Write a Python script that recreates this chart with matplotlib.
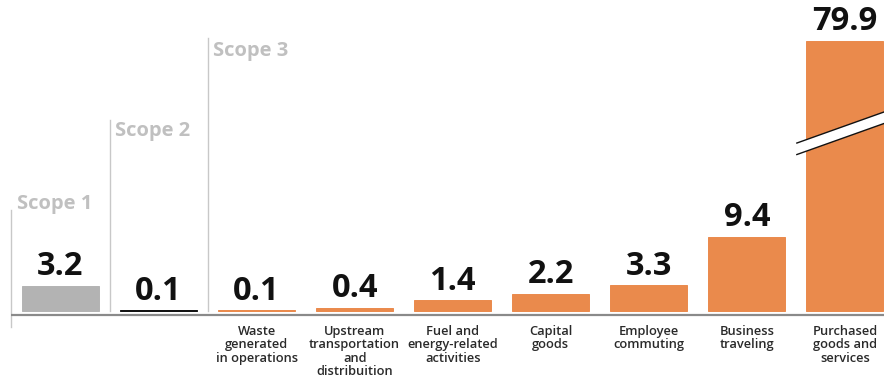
import numpy as np
import matplotlib.pyplot as plt

# --- data ---
categories = ['', '', 'Waste\ngenerated\nin operations',
              'Upstream\ntransportation\nand\ndistribuition',
              'Fuel and\nenergy-related\nactivities', 'Capital\ngoods',
              'Employee\ncommuting', 'Business\ntraveling',
              'Purchased\ngoods and\nservices']
values = [3.2, 0.1, 0.1, 0.4, 1.4, 2.2, 3.3, 9.4, 79.9]
scopes = ['Scope 1', 'Scope 2', 'Scope 3']
scope_start = [0, 1, 2]          # first bar index of each scope
bar_colors = ['#b3b3b3', '#111111'] + ['#ea8a4c'] * 7

# --- layout ---
W, H = 884, 377
px_per_unit = 7.9
base_px = 311           # pixel row of value 0
x0_px, step_px = 60.5, 98.05
cap = 34.2              # displayed height of the broken bar
divider_tops = [12.8, 24.2, 34.5]
label_tops = [14.8, 24.0, 34.2]

fig = plt.figure(figsize=(W / 100, H / 100), dpi=100)
ax = fig.add_axes([0, 0, 1, 1])
ax.set_xlim((0 - x0_px) / step_px, (W - x0_px) / step_px)
ax.set_ylim(-(H - base_px) / px_per_unit, base_px / px_per_unit)
ax.axis('off')

x = np.arange(len(values))
shown = np.minimum(values, cap)
ax.bar(x, shown, width=0.785, color=bar_colors, edgecolor=bar_colors,
       linewidth=0.7, zorder=2)

# value labels
for xi, v, s in zip(x, values, shown):
    ax.annotate(f'{v:.1f}', (xi, s), xytext=(0, 7.5), textcoords='offset points',
                ha='center', va='baseline', fontsize=23.5, fontweight='bold',
                family='Open Sans', color='#111111')

# category labels
for xi, c in zip(x, categories):
    ax.annotate(c, (xi, -0.5), xytext=(0, -7), textcoords='offset points',
                ha='center', va='top', fontsize=9.3, family='Open Sans',
                fontweight='semibold', color='#2a2a2a', linespacing=1.05)

# baseline
ax.plot([-0.5, x[-1] + 1], [-0.5, -0.5], color='#8a8a8a', lw=1.6, zorder=3,
        solid_capstyle='butt')

# scope dividers and labels
for i, (name, st, top, lt) in enumerate(zip(scopes, scope_start, divider_tops, label_tops)):
    xd = st - 0.5
    bottom = -2.05 if i == 0 else 0
    ax.plot([xd, xd], [bottom, top], color='#c8c8c8', lw=1.0, zorder=1)
    ax.annotate(name, (xd, lt), xytext=(4, 0), textcoords='offset points',
                ha='left', va='top', fontsize=14.5, fontweight='bold',
                family='Open Sans', color='#c0c0c0')

# break mark on the tallest bar
bx = x[-1]
slope = 31 / 87 * step_px / px_per_unit  # rise in units per x unit
yc = 22.7
xl, xr = bx - 0.49, bx + 0.6
gap = 11.5 / px_per_unit
ys_l = yc + slope * (xl - bx)
ys_r = yc + slope * (xr - bx)
ax.fill([xl, xr, xr, xl], [ys_l + gap / 2, ys_r + gap / 2, ys_r - gap / 2, ys_l - gap / 2],
        color='white', zorder=4, lw=0)
ax.plot([xl, xr], [ys_l + gap / 2, ys_r + gap / 2], color='#111111', lw=1.0, zorder=5)
ax.plot([xl, xr], [ys_l - gap / 2, ys_r - gap / 2], color='#111111', lw=1.0, zorder=5)

fig.savefig('out.png', dpi=100)
